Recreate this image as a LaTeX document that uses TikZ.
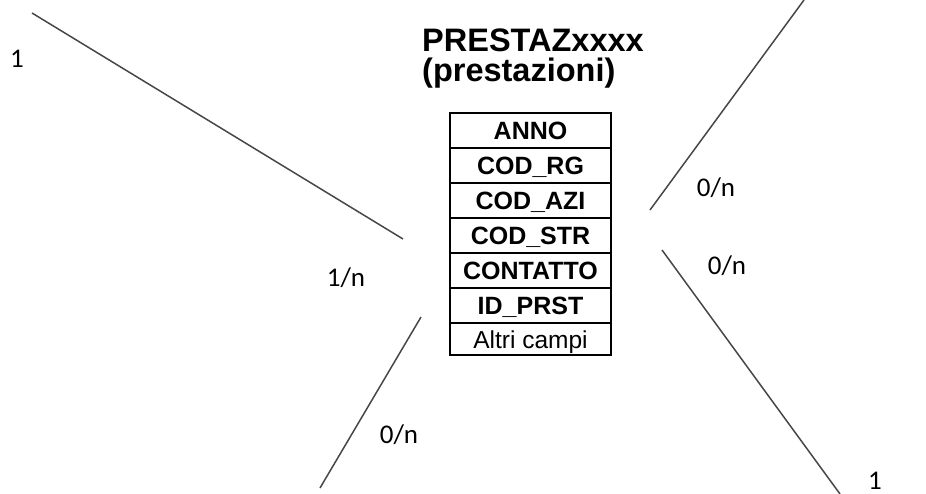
\documentclass[tikz,border=0pt]{standalone}
\usepackage{fontspec}
\setmainfont{Liberation Sans}
\newfontfamily\cardfont{Carlito}
\usetikzlibrary{
  positioning
}

\begin{document}
\begin{tikzpicture}[
  x=1pt, y=-1pt,
  campo/.style={
    draw,
    line width=1.6pt,
    outer sep=0pt,
    minimum width=161pt,
    minimum height=35pt,
    inner ysep=0pt,
    text height=18pt,
    text depth=0pt,
    font=\fontsize{25}{25}\selectfont\bfseries
  },
  altro/.style={
    campo,
    minimum height=32pt,
    font=\fontsize{24.5}{24.5}\selectfont
  },
  titolo/.style={
    align=left,
    inner sep=0pt,
    font=\fontsize{32.5}{30}\selectfont\bfseries
  },
  card/.style={
    inner sep=0pt,
    anchor=base,
    font=\cardfont\fontsize{27}{27}\selectfont
  },
  legame/.style={draw=black!72, line width=1.5pt}
]
\useasboundingbox (0,0) rectangle (926,494);

% Entity title
\node[titolo, anchor=base west] (titolo) at (422,82) {PRESTAZxxxx\\(prestazioni)};

% Fields
\node[campo] (anno) at (530.5,130.5) {ANNO};
\node[campo, below=0pt of anno] (codrg) {COD\_RG};
\node[campo, below=0pt of codrg] (codazi) {COD\_AZI};
\node[campo, below=0pt of codazi] (codstr) {COD\_STR};
\node[campo, below=0pt of codstr] (contatto) {CONTATTO};
\node[campo, below=0pt of contatto] (idprst) {ID\_PRST};
\node[altro, below=0pt of idprst] (altri) {Altri campi};

% Relationship ends
\coordinate (nwA) at (32,13);
\coordinate (nwB) at (403,239);
\coordinate (swA) at (421,317);
\coordinate (swB) at (320,488);
\coordinate (neA) at (650,210);
\coordinate (neB) at (804,0);
\coordinate (seA) at (662,250);
\coordinate (seB) at (840,494);

% Relationships
\draw[legame] (nwA) -- (nwB);
\draw[legame] (swA) -- (swB);
\draw[legame] (neA) -- (neB);
\draw[legame] (seA) -- (seB);

% Cardinalities
\node[card] (cnwA) at (17,68) {1};
\node[card] (cnwB) at (346,287) {1/n};
\node[card] (cswA) at (399,443) {0/n};
\node[card] (cneA) at (716,197) {0/n};
\node[card] (cseA) at (727,275) {0/n};
\node[card] (cseB) at (875,489) {1};

\end{tikzpicture}
\end{document}
